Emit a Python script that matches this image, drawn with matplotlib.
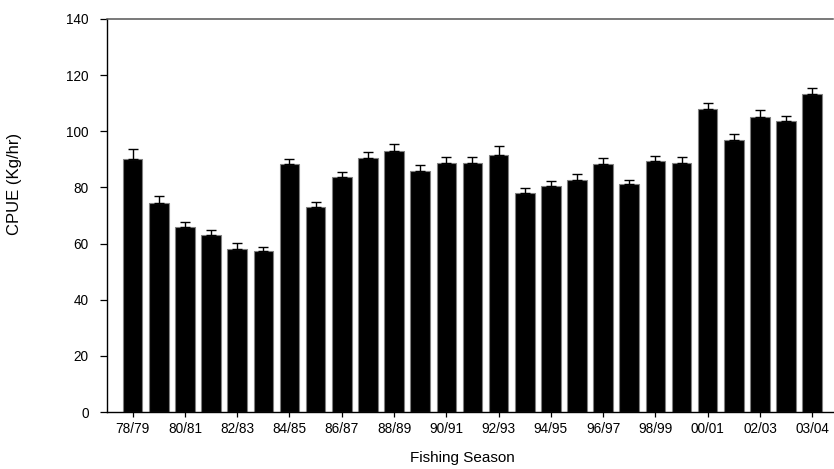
import numpy as np
import matplotlib
matplotlib.use("Agg")
import matplotlib.pyplot as plt

# Catch per unit effort by fishing season (every second season labelled)
season_labels = ["78/79", "", "80/81", "", "82/83", "", "84/85", "", "86/87", "",
                 "88/89", "", "90/91", "", "92/93", "", "94/95", "", "96/97", "",
                 "98/99", "", "00/01", "", "02/03", "", "03/04"]
cpue = [90.1, 74.3, 65.9, 62.9, 58.2, 57.2, 88.2, 73.1, 83.7, 90.5,
        93.0, 85.9, 88.8, 88.8, 91.7, 77.9, 80.5, 82.8, 88.4, 81.2,
        89.3, 88.7, 107.9, 96.8, 105.2, 103.6, 113.3]
cpue_se = [3.7, 2.5, 1.8, 1.8, 2.1, 1.7, 1.9, 1.7, 1.9, 2.1,
           2.3, 2.1, 2.1, 2.1, 3.1, 2.0, 1.7, 2.0, 2.2, 1.6,
           1.8, 2.0, 2.3, 2.1, 2.4, 1.7, 2.2]
y_ticks = [0, 20, 40, 60, 80, 100, 120, 140]

plt.rcParams["font.family"] = ["Liberation Sans", "DejaVu Sans"]

fig = plt.figure(figsize=(8.34, 4.69), dpi=100)
ax = fig.add_axes([0.128, 0.1215, 0.871, 0.838])

x = np.arange(len(cpue))
ax.bar(x, cpue, width=0.75, color="black", edgecolor="#808080", linewidth=0.8, zorder=2)
ax.errorbar(x, cpue, yerr=[np.zeros(len(cpue_se)), cpue_se], fmt="none",
            ecolor="black", elinewidth=1.0, capsize=3.3, capthick=1.0, zorder=3)

ax.set_xlim(-0.99, 26.8)
ax.set_ylim(0, 140)

tick_pos = [i for i, s in enumerate(season_labels) if s]
ax.set_xticks(tick_pos)
ax.set_xticklabels([season_labels[i] for i in tick_pos], fontsize=9.8)
ax.set_yticks(y_ticks)
ax.set_yticklabels([str(v) for v in y_ticks], fontsize=9.8)

ax.tick_params(axis="x", direction="out", length=3.6, width=0.9, pad=3.5)
ax.tick_params(axis="y", direction="out", length=5, width=0.9, pad=8)

for side in ("left", "bottom"):
    ax.spines[side].set_color("black")
    ax.spines[side].set_linewidth(1.0)
ax.spines["top"].set_color("#555555")
ax.spines["top"].set_linewidth(1.1)
ax.spines["right"].set_visible(False)

ax.set_xlabel("Fishing Season", fontsize=11)
ax.xaxis.set_label_coords(0.49, -0.098)
ax.set_ylabel("CPUE (Kg/hr)", fontsize=12)
ax.yaxis.set_label_coords(-0.117, 0.58)

fig.savefig("out.png", dpi=100)
